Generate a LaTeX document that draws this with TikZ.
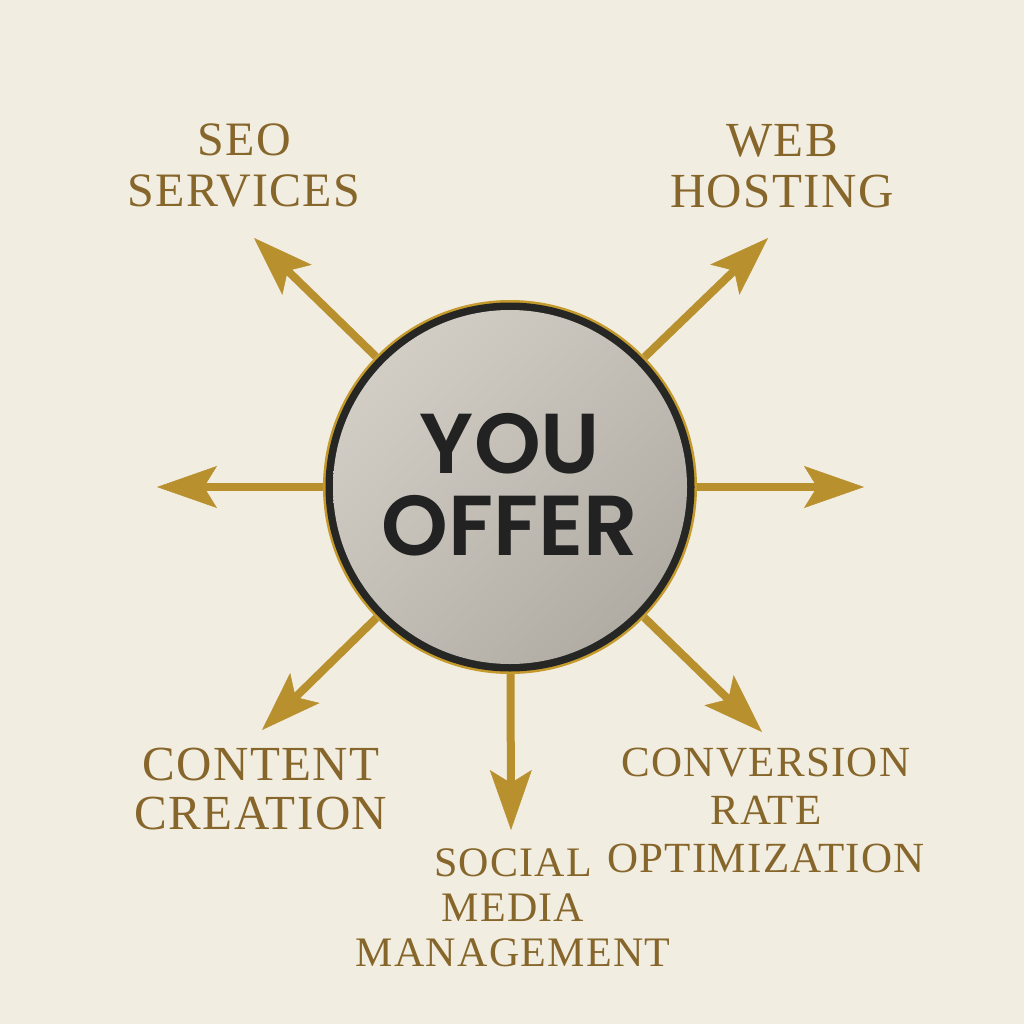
\documentclass[tikz,border=0pt]{standalone}
\usepackage{fontspec}
\setmainfont{Liberation Serif}
\newfontfamily\lblfont[LetterSpace=3]{Liberation Serif}
\newfontfamily\ctrfont{Poppins SemiBold}
\usetikzlibrary{arrows.meta,shadings}
\definecolor{bg}{HTML}{F2EDE1}
\definecolor{goldarrow}{HTML}{B8902E}
\definecolor{goldring}{HTML}{C49A2C}
\definecolor{goldtext}{HTML}{86662A}
\definecolor{ringblack}{HTML}{262624}
\definecolor{diskA}{HTML}{D8D4CC}
\definecolor{diskB}{HTML}{C2BEB6}
\definecolor{diskC}{HTML}{A9A59C}
\definecolor{ctrtext}{HTML}{222222}
\tikzset{
  spoke/.style={draw=goldarrow, line width=8pt,
    -{Stealth[length=60pt, width=42pt, inset=13pt, line width=0.5pt 0]}},
  lbl/.style={text=goldtext, align=center, inner sep=0pt, anchor=north},
}
\begin{document}
\begin{tikzpicture}[x=1pt, y=-1pt]
\fill[bg] (0,0) rectangle (1024,1024);
\useasboundingbox (0,0) rectangle (1024,1024);

% central disc
\node[circle, minimum size=374pt, inner sep=0pt, fill=goldring] (c) at (510,487) {};
\fill[ringblack] (c.center) circle (184.5);
\shade[upper left=diskA, upper right=diskB, lower left=diskB, lower right=diskC] (c.center) circle (177);

% tips
\coordinate (tul) at (254,238);
\coordinate (tur) at (768,238);
\coordinate (tl) at (157,487);
\coordinate (tr) at (864,487);
\coordinate (tll) at (262,730);
\coordinate (tlr) at (762,732);
\coordinate (td) at (511,830);

\draw[spoke] (c) -- (tul);
\draw[spoke] (c) -- (tur);
\draw[spoke] (c) -- (tl);
\draw[spoke] (c) -- (tr);
\draw[spoke] (c) -- (tll);
\draw[spoke] (c) -- (tlr);
\draw[spoke] (c) -- (td);

\node[text=ctrtext, align=center, inner sep=0pt, anchor=north,
  font=\ctrfont\fontsize{85}{82}\selectfont] (ctr) at (510,413) {YOU\\OFFER};

\node[lbl, font=\lblfont\fontsize{48}{51}\selectfont] (seo) at (244,124) {SEO\\SERVICES};
\node[lbl, font=\lblfont\fontsize{49}{51}\selectfont] (web) at (782,124) {WEB\\HOSTING};
\node[lbl, font=\lblfont\fontsize{49}{49}\selectfont] (cont) at (261,748) {CONTENT\\CREATION};
\node[lbl, font=\lblfont\fontsize{42}{45}\selectfont] (soc) at (513,848) {SOCIAL\\MEDIA\\MANAGEMENT};
\node[lbl, font=\lblfont\fontsize{43}{48}\selectfont] (conv) at (766,748) {CONVERSION\\RATE\\OPTIMIZATION};
\end{tikzpicture}
\end{document}
